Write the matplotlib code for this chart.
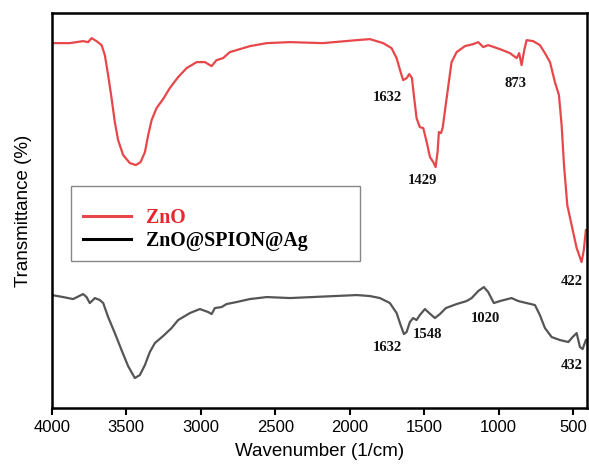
import matplotlib.pyplot as plt
from matplotlib.patches import Rectangle

# FTIR spectra (y in arbitrary transmittance units)
zno_wn = [4000, 3879, 3790, 3756, 3733, 3700, 3666, 3644, 3622, 3599, 3577, 3555,
          3521, 3476, 3436, 3404, 3375, 3353, 3330, 3297, 3253, 3208, 3152, 3095,
          3028, 2972, 2927, 2894, 2850, 2805, 2737, 2670, 2556, 2401, 2180, 1952,
          1864, 1775, 1719, 1685, 1658, 1641, 1618, 1600, 1582, 1567, 1551, 1529,
          1506, 1483, 1461, 1439, 1423, 1410, 1401, 1387, 1376, 1349, 1316, 1282,
          1226, 1171, 1137, 1103, 1070, 991, 924, 879, 862, 846, 828, 812,
          768, 723, 689, 655, 622, 595, 577, 561, 539, 510, 476, 443, 428, 414]
zno_t = [365, 365, 367, 366, 370, 367, 363, 353, 333, 310, 286, 268,
         253, 245, 243, 246, 256, 273, 288, 300, 309, 320, 331, 340,
         346, 346, 342, 348, 350, 356, 359, 362, 365, 366, 365, 368,
         369, 365, 360, 350, 336, 328, 330, 334, 330, 310, 290, 281,
         280, 266, 251, 246, 241, 256, 276, 275, 280, 310, 346, 356,
         362, 364, 366, 361, 363, 359, 355, 350, 355, 343, 358, 368,
         367, 363, 355, 346, 326, 313, 283, 243, 203, 183, 160, 146, 158, 178]

comp_wn = [4000, 3924, 3857, 3790, 3767, 3745, 3711, 3678, 3655, 3622, 3577, 3532,
           3488, 3443, 3409, 3375, 3342, 3308, 3253, 3196, 3152, 3073, 3006, 2950,
           2927, 2905, 2860, 2827, 2760, 2670, 2556, 2401, 1952, 1864, 1797, 1730,
           1685, 1658, 1636, 1618, 1596, 1574, 1551, 1529, 1495, 1466, 1428, 1394,
           1354, 1282, 1215, 1181, 1137, 1099, 1070, 1032, 991, 913, 868, 812,
           756, 723, 689, 644, 588, 532, 503, 476, 454, 436, 414]
comp_t = [113, 111, 109, 114, 111, 105, 110, 108, 105, 91, 75, 58,
          42, 30, 33, 43, 56, 65, 72, 80, 88, 95, 99, 96,
          94, 100, 101, 104, 106, 109, 111, 110, 113, 112, 110, 105,
          95, 83, 74, 76, 86, 90, 88, 93, 99, 95, 90, 94,
          100, 104, 107, 110, 117, 121, 116, 105, 107, 110, 107, 105,
          103, 93, 80, 71, 68, 66, 71, 75, 61, 59, 68]

# peak labels: (text, wavenumber, y)
peak_labels = [("1632", 1750, 311), ("1429", 1508, 228), ("873", 884, 325),
               ("422", 508, 127), ("1632", 1750, 61), ("1548", 1475, 74),
               ("1020", 1092, 90), ("432", 508, 43)]

fig = plt.figure(figsize=(5.89, 4.69), dpi=100)
ax = fig.add_axes([0.088, 0.13, 0.909, 0.842])

ax.plot(zno_wn, zno_t, color='#e8474a', lw=1.6, label='ZnO')
ax.plot(comp_wn, comp_t, color='#555555', lw=1.6, label='ZnO@SPION@Ag')

for txt, x, y in peak_labels:
    ax.text(x, y, txt, ha='center', va='center', fontsize=10.5,
            fontweight='bold', family='Liberation Serif', color='#111111')

ax.set_xlim(4000, 405)
ax.set_ylim(0, 395)
ax.set_xticks([4000, 3500, 3000, 2500, 2000, 1500, 1000, 500])
ax.set_yticks([])
ax.tick_params(axis='x', direction='out', length=5, width=1.5, labelsize=12)
for lab in ax.get_xticklabels():
    lab.set_family('Liberation Sans')
for s in ax.spines.values():
    s.set_linewidth(1.8)

ax.set_xlabel('Wavenumber (1/cm)', fontsize=13.5, family='Liberation Sans', labelpad=6)
ax.set_ylabel('Transmittance (%)', fontsize=13.5, family='Liberation Sans', labelpad=14)

# legend box drawn separately (it is wider than its contents)
ax.add_patch(Rectangle((0.035, 0.372), 0.541, 0.19, transform=ax.transAxes,
                       fill=False, edgecolor='#888888', lw=1.0, zorder=3))
handles, labels = ax.get_legend_handles_labels()
leg = ax.legend(handles, labels, loc='center left', bbox_to_anchor=(0.058, 0.452),
                frameon=False, borderpad=0, borderaxespad=0,
                prop={'family': 'Liberation Serif', 'weight': 'bold', 'size': 14.3},
                handlelength=2.4, handletextpad=0.8, labelspacing=0.12)
leg.legend_handles[0].set_linewidth(2.2)
leg.legend_handles[1].set_linewidth(2.2)
leg.legend_handles[1].set_color('black')
leg.get_texts()[0].set_color('#e8262e')
leg.get_texts()[1].set_color('black')

fig.savefig('out.png', dpi=100)
